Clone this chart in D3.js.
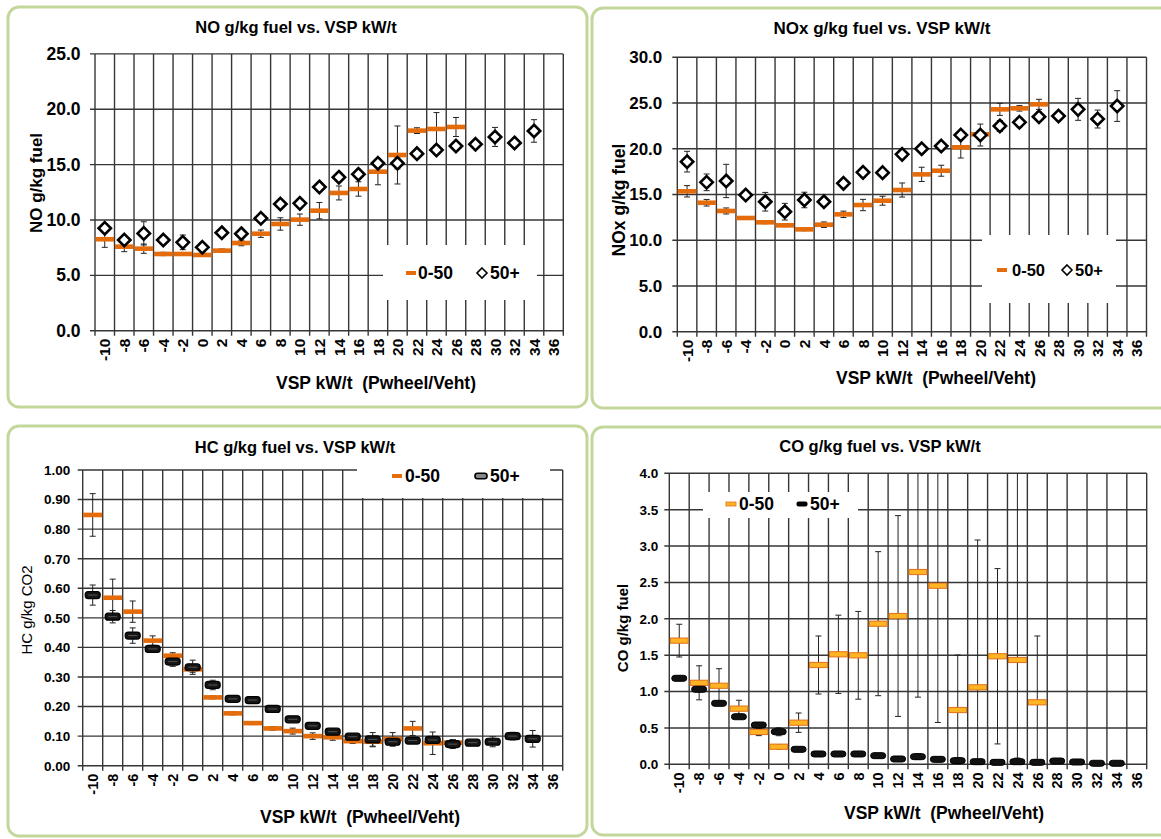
<!DOCTYPE html>
<html>
<head>
<meta charset="utf-8">
<script src="https://cdn.jsdelivr.net/npm/d3@7"></script>
<style>
  body { margin: 0; background: #fff; }
  text { font-family: "Liberation Sans", Arial, sans-serif; fill: #000; }
</style>
</head>
<body>
<svg id="chart" width="1161" height="839"></svg>
<script>
// VSP bins (kW/t), category axis shared by all four panels
const vsp = d3.range(-10, 37, 2);

// NO g/kg fuel
const noLow     = [8.26, 7.59, 7.41, 6.93, 6.93, 6.84, 7.23, 7.92, 8.76, 9.64, 10.03, 10.84, 12.44, 12.80, 14.36, 15.87, 18.07, 18.22, 18.40, null, null, null, null, null];
const noLowErr  = [0.73, 0.45, 0.42, 0.15, 0.12, 0.12, 0.15, 0.25, 0.33, 0.56, 0.51, 0.74, 0.63, 0.65, 1.18, 2.62, 0.26, 1.48, 0.86, null, null, null, null, null];
const noHigh    = [9.25, 8.19, 8.79, 8.19, 7.98, 7.53, 8.85, 8.76, 10.15, 11.44, 11.50, 12.98, 13.86, 14.13, 15.12, 15.12, 15.99, 16.32, 16.68, 16.84, 17.50, 16.96, 18.04, null];
const noHighErr = [0.40, 0.30, 1.05, 0.30, 0.66, 0.40, 0.30, 0.30, 0.30, 0.30, 0.30, 0.30, 0.30, 0.30, 0.30, 0.50, 0.30, 0.30, 0.40, 0.30, 0.86, 0.30, 1.02, null];

// NOx g/kg fuel
const noxLow     = [15.35, 14.10, 13.20, 12.43, 11.96, 11.63, 11.19, 11.70, 12.83, 13.85, 14.32, 15.49, 17.20, 17.60, 20.16, 21.58, 24.31, 24.42, 24.86, null, null, null, null, null];
const noxLowErr  = [0.62, 0.36, 0.33, 0.15, 0.15, 0.15, 0.15, 0.30, 0.35, 0.62, 0.49, 0.77, 0.78, 0.60, 1.17, 0.30, 0.66, 0.30, 0.55, null, null, null, null, null];
const noxHigh    = [18.59, 16.33, 16.48, 14.94, 14.21, 13.12, 14.40, 14.21, 16.22, 17.42, 17.39, 19.39, 20.00, 20.30, 21.50, 21.50, 22.49, 22.89, 23.50, 23.58, 24.31, 23.25, 24.67, null];
const noxHighErr = [1.13, 0.91, 1.82, 0.40, 1.02, 0.91, 0.85, 0.50, 0.40, 0.50, 0.40, 0.40, 0.40, 0.40, 0.40, 1.20, 0.60, 0.50, 0.50, 0.30, 1.20, 0.98, 1.68, null];

// HC g/kg CO2
const hcLow     = [0.848, 0.568, 0.521, 0.423, 0.372, 0.326, 0.231, 0.177, 0.144, 0.126, 0.117, 0.100, 0.096, 0.083, 0.081, 0.090, 0.126, 0.076, 0.078, null, null, null, null, null];
const hcLowErr  = [0.072, 0.063, 0.036, 0.016, 0.010, 0.010, 0.005, 0.005, 0.005, 0.006, 0.010, 0.011, 0.010, 0.008, 0.017, 0.022, 0.024, 0.038, 0.010, null, null, null, null, null];
const hcHigh    = [0.577, 0.504, 0.440, 0.395, 0.352, 0.333, 0.273, 0.226, 0.222, 0.192, 0.157, 0.135, 0.115, 0.098, 0.089, 0.081, 0.085, 0.087, 0.073, 0.078, 0.081, 0.100, 0.091, null];
const hcHighErr = [0.034, 0.021, 0.026, 0.010, 0.016, 0.024, 0.016, 0.010, 0.008, 0.006, 0.008, 0.008, 0.010, 0.010, 0.023, 0.015, 0.008, 0.010, 0.015, 0.005, 0.017, 0.013, 0.028, null];

// CO g/kg fuel
const coLow     = [1.700, 1.120, 1.080, 0.765, 0.444, 0.242, 0.572, 1.365, 1.512, 1.498, 1.933, 2.038, 2.643, 2.455, 0.746, 1.058, 1.485, 1.434, 0.852, null, null, null, null, null];
const coLowErr  = [0.225, 0.234, 0.234, 0.115, 0.050, 0.030, 0.133, 0.399, 0.538, 0.603, 0.990, 1.380, 1.720, 1.880, 0.756, 2.025, 1.205, 2.700, 0.912, null, null, null, null, null];
const coHigh    = [1.182, 1.031, 0.838, 0.654, 0.540, 0.448, 0.206, 0.142, 0.142, 0.142, 0.119, 0.073, 0.105, 0.068, 0.050, 0.036, 0.027, 0.036, 0.027, 0.045, 0.032, 0.014, 0.014, null];
const coHighErr = [0.030, 0.030, 0.020, 0.020, 0.020, 0.055, 0.010, 0.010, 0.010, 0.010, 0.020, 0.010, 0.040, 0.010, 0.040, 0.020, 0.010, 0.050, 0.010, 0.020, 0.010, 0.010, 0.010, null];

// Tick values of each value axis
const noTicks  = d3.range(0, 25.01, 5);
const noxTicks = d3.range(0, 30.01, 5);
const hcTicks  = d3.range(0, 1.001, 0.1);
const coTicks  = d3.range(0, 4.001, 0.5);

const seriesNames = ["0-50", "50+"];
const xTitle = "VSP kW/t  (Pwheel/Veht)";

const ORANGE = "#E46C0A";
const GRID = "#363636";

const svg = d3.select("#chart");

const panels = [
  { frame: [8, 7, 579, 400], plot: [95, 53.9, 563.3, 330.7],
    title: "NO g/kg fuel vs. VSP kW/t", titleX: 296, titleY: 27, titleSize: 16.5,
    yTitle: "NO g/kg fuel", yTitleX: 36, yTitleY: 183, yTitleBold: true, yTitleSize: 17,
    xTitleX: 376, xTitleY: 383,
    domain: [0, 25], ticks: noTicks, fmt: d3.format(".1f"), tickSize: 17.5, tickPad: 14.5, xTickSize: 15.5,
    low: noLow, lowErr: noLowErr, high: noHigh, highErr: noHighErr,
    lowStyle: "bar", highStyle: "diamond",
    legend: { box: [383, 245, 154, 55], y: 273, dashX: 406, textX: 418, iconX: 482, text2X: 490, size: 17.5 } },
  { frame: [592, 8, 590, 400], plot: [677.3, 57.3, 1146.5, 331.7],
    title: "NOx g/kg fuel vs. VSP kW/t", titleX: 882, titleY: 28, titleSize: 17,
    yTitle: "NOx g/kg fuel", yTitleX: 619, yTitleY: 200, yTitleBold: true, yTitleSize: 17.5,
    xTitleX: 936, xTitleY: 378,
    domain: [0, 30], ticks: noxTicks, fmt: d3.format(".1f"), tickSize: 17, tickPad: 15, xTickSize: 15.5,
    low: noxLow, lowErr: noxLowErr, high: noxHigh, highErr: noxHighErr,
    lowStyle: "bar", highStyle: "diamond",
    legend: { box: [982, 235, 134, 68], y: 270, dashX: 997, textX: 1012, iconX: 1067, text2X: 1075, size: 16.5 } },
  { frame: [8, 426, 579, 410], plot: [82.7, 470, 562.7, 765.7],
    title: "HC g/kg fuel vs. VSP kW/t", titleX: 295, titleY: 447, titleSize: 16.5,
    yTitle: "HC g/kg CO2", yTitleX: 27, yTitleY: 610, yTitleBold: false, yTitleSize: 15,
    xTitleX: 360, xTitleY: 817,
    domain: [0, 1], ticks: hcTicks, fmt: d3.format(".2f"), tickSize: 13.5, tickPad: 12.5, xTickSize: 14.5,
    low: hcLow, lowErr: hcLowErr, high: hcHigh, highErr: hcHighErr,
    lowStyle: "bar", highStyle: "pillGray",
    legend: { box: [357, 458, 193, 40], y: 476, dashX: 392, textX: 405, iconX: 481, text2X: 490, size: 17.5 } },
  { frame: [592, 427, 590, 408], plot: [669.3, 473.3, 1146.7, 764.3],
    title: "CO g/kg fuel vs. VSP kW/t", titleX: 880, titleY: 446, titleSize: 16.5,
    yTitle: "CO g/kg fuel", yTitleX: 623, yTitleY: 628, yTitleBold: true, yTitleSize: 15,
    xTitleX: 944, xTitleY: 813,
    domain: [0, 4], ticks: coTicks, fmt: d3.format(".1f"), tickSize: 13.5, tickPad: 11, xTickSize: 14.5,
    low: coLow, lowErr: coLowErr, high: coHigh, highErr: coHighErr,
    lowStyle: "barOutlined", highStyle: "pill",
    legend: { box: [703, 492, 155, 26], y: 504, dashX: 726, textX: 739, iconX: 802, text2X: 810, size: 17.5 } }
];

function drawMarker(g, style, cx, cy, bw) {
  if (style === "bar") {
    g.append("rect").attr("x", cx - bw / 2 + 0.5).attr("y", cy - 2.3)
      .attr("width", bw - 1).attr("height", 4.6).attr("fill", ORANGE);
  } else if (style === "barOutlined") {
    g.append("rect").attr("x", cx - bw / 2 + 1).attr("y", cy - 2.6)
      .attr("width", bw - 2).attr("height", 5.2)
      .attr("fill", "#FFB423").attr("stroke", "#E0701A").attr("stroke-width", 1);
  } else if (style === "diamond") {
    const s = 6.2;
    g.append("path").attr("d", `M${cx},${cy - s}L${cx + s},${cy}L${cx},${cy + s}L${cx - s},${cy}Z`)
      .attr("fill", "#fff").attr("stroke", "#000").attr("stroke-width", 2.6);
  } else if (style === "pillGray") {
    g.append("rect").attr("x", cx - 7.5).attr("y", cy - 3.5).attr("width", 15).attr("height", 7)
      .attr("rx", 3).attr("fill", "#151515").attr("stroke", "#000").attr("stroke-width", 1.2);
    g.append("line").attr("x1", cx - 4.5).attr("x2", cx + 4.5).attr("y1", cy).attr("y2", cy)
      .attr("stroke", "#555").attr("stroke-width", 1);
  } else if (style === "pill") {
    g.append("rect").attr("x", cx - 7.5).attr("y", cy - 3).attr("width", 15).attr("height", 6)
      .attr("rx", 3).attr("fill", "#111").attr("stroke", "#000").attr("stroke-width", 1);
  }
}

function drawLegendIcon(g, style, x, y) {
  if (style === "bar") {
    g.append("rect").attr("x", x).attr("y", y - 2).attr("width", 10).attr("height", 4).attr("fill", ORANGE);
  } else if (style === "barOutlined") {
    g.append("rect").attr("x", x).attr("y", y - 2).attr("width", 10).attr("height", 4)
      .attr("fill", "#FFB423").attr("stroke", "#E0701A").attr("stroke-width", 0.8);
  } else if (style === "diamond") {
    const s = 5;
    g.append("path").attr("d", `M${x},${y - s}L${x + s},${y}L${x},${y + s}L${x - s},${y}Z`)
      .attr("fill", "#fff").attr("stroke", "#000").attr("stroke-width", 1.6);
  } else if (style === "pillGray") {
    g.append("rect").attr("x", x - 6).attr("y", y - 2.8).attr("width", 12).attr("height", 5.6)
      .attr("rx", 2.5).attr("fill", "#888").attr("stroke", "#000").attr("stroke-width", 1.6);
  } else if (style === "pill") {
    g.append("rect").attr("x", x - 5.5).attr("y", y - 2.5).attr("width", 11).attr("height", 5)
      .attr("rx", 2).attr("fill", "#000");
  }
}

panels.forEach(p => {
  const g = svg.append("g");
  const [fx, fy, fw, fh] = p.frame;
  g.append("rect").attr("x", fx).attr("y", fy).attr("width", fw).attr("height", fh)
    .attr("rx", 11).attr("fill", "#fff").attr("stroke", "#C4D79B").attr("stroke-width", 3);

  const [x0, y0, x1, y1] = p.plot;
  const x = d3.scaleBand().domain(vsp).range([x0, x1]).padding(0);
  const y = d3.scaleLinear().domain(p.domain).range([y1, y0]);
  const bw = x.bandwidth();

  // horizontal gridlines with outward ticks
  g.append("g").selectAll("line").data(p.ticks).join("line")
    .attr("x1", x0 - 5).attr("x2", x1)
    .attr("y1", d => y(d)).attr("y2", d => y(d))
    .attr("stroke", GRID).attr("stroke-width", 1.4);

  // vertical gridlines at bin boundaries, extended below the axis as tick marks
  const bounds = vsp.map(v => x(v)).concat([x1]);
  g.append("g").selectAll("line").data(bounds).join("line")
    .attr("x1", d => d).attr("x2", d => d)
    .attr("y1", y0).attr("y2", y1 + 5)
    .attr("stroke", GRID).attr("stroke-width", 1.4);

  // value axis labels
  const yAxis = d3.axisLeft(y).tickValues(p.ticks).tickFormat(p.fmt).tickSize(0).tickPadding(p.tickPad);
  const ya = g.append("g").attr("transform", `translate(${x0},0)`).call(yAxis);
  ya.select(".domain").remove();
  ya.selectAll("text").attr("font-size", p.tickSize).attr("font-weight", "bold")
    .attr("font-family", "Liberation Sans, Arial, sans-serif").attr("fill", "#000");

  // category axis labels, rotated
  const xAxis = d3.axisBottom(x).tickSize(0).tickPadding(0);
  const xa = g.append("g").attr("transform", `translate(0,${y1})`).call(xAxis);
  xa.select(".domain").remove();
  xa.selectAll("text")
    .attr("transform", "rotate(-90)")
    .attr("x", -8).attr("y", 0).attr("dy", "0.36em")
    .attr("text-anchor", "end")
    .attr("font-size", p.xTickSize).attr("font-weight", "bold")
    .attr("font-family", "Liberation Sans, Arial, sans-serif").attr("fill", "#000");

  // legend background masks the grid beneath it
  const L = p.legend;
  g.append("rect").attr("x", L.box[0]).attr("y", L.box[1]).attr("width", L.box[2]).attr("height", L.box[3])
    .attr("fill", "#fff");

  // error bars, clipped to the value axis range
  const [dmin, dmax] = p.domain;
  const drawErr = (vals, errs) => {
    const eg = g.append("g").attr("stroke", "#222").attr("stroke-width", 1);
    vals.forEach((v, i) => {
      if (v == null) return;
      const cx = x(vsp[i]) + bw / 2;
      const lo = v - errs[i], hi = v + errs[i];
      const loC = Math.max(lo, dmin), hiC = Math.min(hi, dmax);
      eg.append("line").attr("x1", cx).attr("x2", cx).attr("y1", y(loC)).attr("y2", y(hiC));
      if (lo >= dmin) eg.append("line").attr("x1", cx - 3).attr("x2", cx + 3).attr("y1", y(lo)).attr("y2", y(lo));
      if (hi <= dmax) eg.append("line").attr("x1", cx - 3).attr("x2", cx + 3).attr("y1", y(hi)).attr("y2", y(hi));
    });
  };
  drawErr(p.low, p.lowErr);
  drawErr(p.high, p.highErr);

  const mg = g.append("g");
  p.low.forEach((v, i) => { if (v != null) drawMarker(mg, p.lowStyle, x(vsp[i]) + bw / 2, y(v), bw); });
  p.high.forEach((v, i) => { if (v != null) drawMarker(mg, p.highStyle, x(vsp[i]) + bw / 2, y(v), bw); });

  // legend entries
  drawLegendIcon(g, p.lowStyle, L.dashX, L.y);
  g.append("text").attr("x", L.textX).attr("y", L.y).attr("dy", "0.36em")
    .attr("font-size", L.size).attr("font-weight", "bold").text(seriesNames[0]);
  drawLegendIcon(g, p.highStyle, L.iconX, L.y);
  g.append("text").attr("x", L.text2X).attr("y", L.y).attr("dy", "0.36em")
    .attr("font-size", L.size).attr("font-weight", "bold").text(seriesNames[1]);

  // titles
  g.append("text").attr("x", p.titleX).attr("y", p.titleY).attr("dy", "0.36em")
    .attr("text-anchor", "middle").attr("font-size", p.titleSize).attr("font-weight", "bold")
    .text(p.title);
  g.append("text").attr("x", p.xTitleX).attr("y", p.xTitleY).attr("dy", "0.36em")
    .attr("text-anchor", "middle").attr("font-size", 17.5).attr("font-weight", "bold")
    .style("white-space", "pre").text(xTitle);
  g.append("text").attr("transform", `translate(${p.yTitleX},${p.yTitleY}) rotate(-90)`)
    .attr("dy", "0.36em").attr("text-anchor", "middle")
    .attr("font-size", p.yTitleSize).attr("font-weight", p.yTitleBold ? "bold" : "normal")
    .text(p.yTitle);
});
</script>
</body>
</html>
